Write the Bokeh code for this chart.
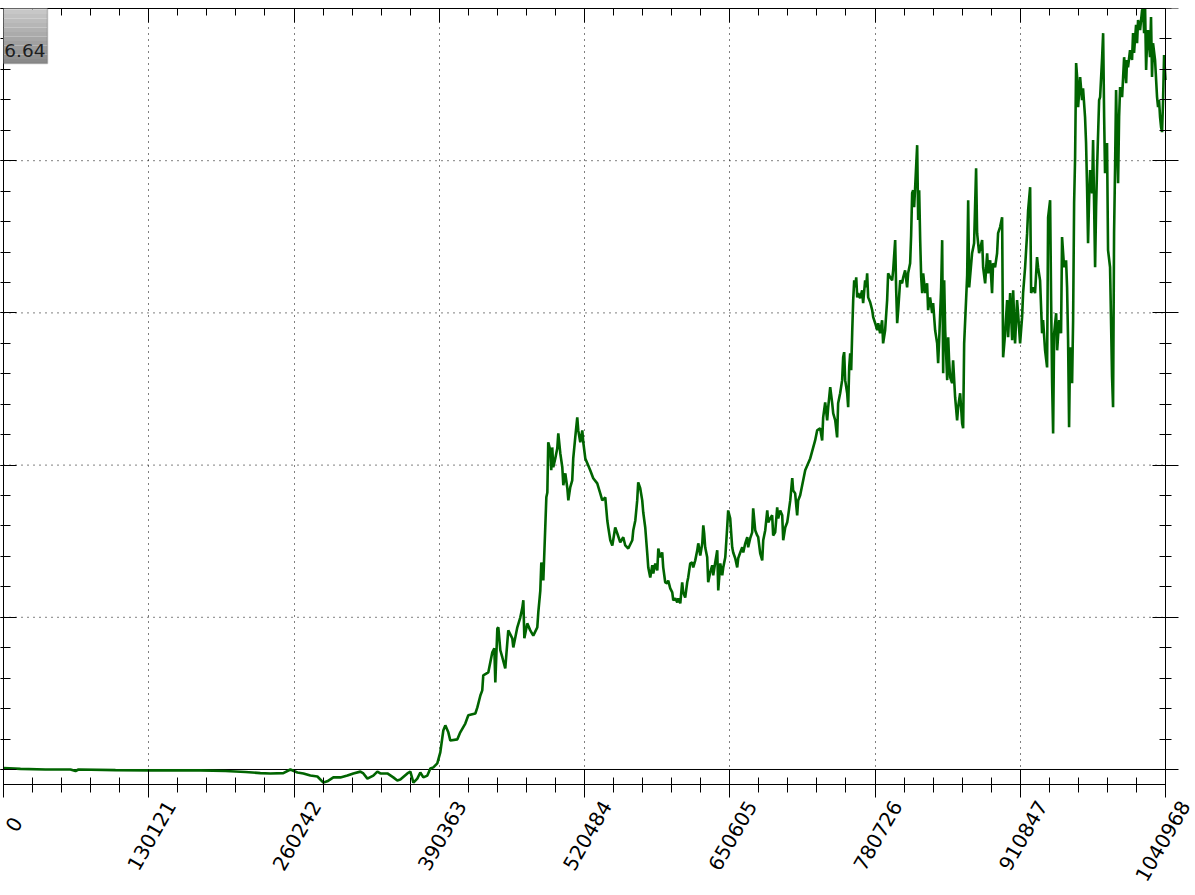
import numpy as np
from bokeh.plotting import figure
from bokeh.models import (Range1d, LinearAxis, FixedTicker, Span, BoxAnnotation,
                          Label, Grid, CustomLabelingPolicy, BasicTickFormatter)
from bokeh.embed import file_html
from bokeh.resources import INLINE

# ---------------- data ----------------
x_ticks = [0, 130121, 260242, 390363, 520484, 650605, 780726, 910847, 1040968]
y_ticks = [10000, 15000, 20000, 25000, 30000, 35000]
box_text = "6.64"

xs = [
    0, 15200, 37600, 60000, 64500, 67200, 100300, 131600, 176400, 198800,
    216700, 230100, 239100, 250700, 257000, 263300, 268700, 274900, 281200, 286600,
    290100, 295500, 301800, 308100, 313400, 319700, 322400, 326000, 331300, 334900,
    337600, 343900, 349200, 352800, 355500, 361800, 364500, 367200, 370700, 373400,
    376100, 379700, 382400, 385100, 388600, 391300, 394000, 395800, 398500, 400300,
    406600, 409200, 413700, 416400, 422700, 424500, 427200, 428900, 429800, 434300,
    437900, 439700, 440600, 442400, 443300, 445100, 446900, 449500, 452200, 455800,
    456700, 460300, 463000, 464800, 465700, 466600, 469200, 471900, 474600, 478200,
    479100, 480900, 481800, 483600, 485400, 486300, 487200, 488000, 489800, 490700,
    491600, 492500, 494300, 496100, 497000, 498800, 500600, 501500, 503300, 505100,
    506000, 507700, 509500, 510400, 512200, 514000, 514900, 516700, 518500, 519400,
    521200, 523000, 525600, 528300, 531900, 534600, 536400, 539100, 540900, 541800,
    543600, 545400, 548000, 549800, 552500, 555200, 557000, 559700, 563300, 564200,
    566000, 567700, 568600, 570400, 572200, 573100, 574900, 576700, 577600, 579400,
    581200, 582100, 583900, 585700, 586600, 588300, 590100, 591000, 592800, 594600,
    595500, 597300, 599100, 600000, 601800, 603600, 604500, 606300, 608000, 608900,
    610700, 612500, 613400, 615200, 617000, 617900, 619700, 621500, 622400, 624200,
    626000, 626900, 627700, 628600, 630400, 631300, 633100, 634900, 635800, 637600,
    639400, 640300, 642100, 643900, 644800, 646600, 648300, 649200, 651000, 652800,
    653700, 655500, 657300, 658200, 660000, 661800, 662700, 664500, 666300, 667100,
    668900, 670700, 671600, 673400, 675200, 676100, 677900, 679700, 680600, 682400,
    684200, 685100, 686800, 688600, 689500, 691300, 693100, 694000, 695800, 697600,
    698500, 700300, 702100, 703000, 704800, 706600, 707400, 709200, 711000, 711900,
    713700, 718200, 722700, 727100, 728900, 731600, 733400, 734300, 736100, 737900,
    738800, 740600, 742400, 743300, 745100, 746800, 747700, 749500, 751300, 752200,
    753100, 754000, 755800, 756700, 757600, 758500, 759400, 760300, 761200, 762100,
    763000, 763900, 764800, 765700, 767400, 769200, 770100, 771900, 772800, 773700,
    774600, 776400, 778200, 779100, 780900, 782700, 783600, 785300, 787100, 788000,
    789800, 791600, 792500, 794300, 796100, 797000, 798800, 799700, 800600, 801500,
    803300, 805000, 806000, 807700, 809500, 810400, 812200, 813100, 814000, 814900,
    815800, 816700, 818500, 819400, 820300, 821200, 822100, 823000, 823900, 825700,
    827400, 828300, 830100, 831900, 832800, 834600, 836400, 837300, 838200, 840000,
    840900, 841800, 842700, 843600, 845400, 846300, 847100, 848000, 849800, 850700,
    852500, 854300, 855200, 857000, 858800, 859700, 860600,
    863300, 864200, 865100, 867700, 869500, 871300, 872200, 874000, 876700,
    877600, 879400, 881200, 882100, 883900, 885600, 886500, 888300, 890100, 891000,
    892800, 894600, 895500, 897300, 899100, 900000, 901800, 903600, 904500, 906200,
    908000, 908900, 910700, 912500, 913400, 915200, 917000, 917900, 919700, 920600,
    922400, 924100, 925900, 926800, 928600, 930400, 931300, 933100, 934900, 935800,
    937600, 938500, 939400, 940300, 941200, 943000, 943900, 945700, 947400, 948300,
    950100, 951900, 952800, 953700, 954600, 955500, 957300, 958200, 959100, 960000,
    960900, 961800, 962700, 964500, 966200, 967100, 968900, 969800, 970700, 971600,
    972500, 973400, 975200, 976100, 977900, 978800, 979700, 981500, 982400, 984200,
    985100, 986000, 986800, 988600, 989500, 991300, 993100, 994000, 994900, 995800,
    996700, 997600, 998500, 999400, 1000300, 1002100, 1003000, 1003900, 1005700, 1006500,
    1007400, 1009200, 1011000, 1011900, 1012800, 1014600, 1015500, 1016400, 1018200, 1020000,
    1020900, 1021800, 1022700, 1023600, 1024500, 1025300, 1027100, 1028000, 1028900, 1029800,
    1031600, 1033400, 1034300, 1035200, 1036100, 1037000, 1037900, 1038800, 1039700, 1040968,
]

ys = [
    10050, 10020, 10000, 10000, 9950, 10000, 9980, 9970, 9970, 9950,
    9920, 9880, 9870, 9880, 10000, 9900, 9870, 9800, 9770, 9570,
    9610, 9740, 9740, 9800, 9870, 9930, 9870, 9700, 9800, 9930,
    9870, 9870, 9740, 9640, 9670, 9870, 9930, 9570, 9700, 9900,
    9740, 9800, 10030, 10070, 10200, 10560, 11280, 11450, 11220, 10950,
    10990, 11220, 11510, 11780, 11840, 12040, 12430, 12600, 13090, 13190,
    13850, 13980, 12860, 14630, 14670, 13910, 13680, 13320, 14570, 14310,
    14010, 14670, 15000, 15320, 15560, 14310, 14800, 14570, 14400, 14670,
    15160, 15880, 16800, 16210, 18020, 18940, 19100, 20750, 20490, 19830,
    20580, 19930, 20220, 20550, 21040, 20390, 19930, 19340, 19730, 19240,
    18840, 19270, 19500, 20220, 20910, 21570, 21140, 20750, 21140, 20750,
    20220, 20060, 19830, 19570, 19400, 19070, 18840, 18940, 18180, 17950,
    17530, 17360, 17950, 17760, 17460, 17630, 17360, 17260, 17530, 17860,
    18180, 18840, 19430, 19240, 18840, 18450, 17950, 17100, 16640, 16310,
    16710, 16440, 16770, 16540, 17260, 16970, 17130, 16640, 16150, 16110,
    16210, 15950, 15820, 15560, 15620, 15490, 15620, 15460, 16150, 15820,
    15650, 16150, 16310, 16770, 16800, 16640, 16870, 17200, 17430, 17030,
    17430, 18020, 17760, 17300, 16970, 16150, 16480, 16710, 16380, 16800,
    17200, 15880, 16770, 16380, 16640, 16970, 17950, 18510, 18250, 17300,
    17130, 16940, 16640, 16940, 17130, 17300, 17130, 17430, 17630, 17300,
    17590, 17790, 18580, 17860, 17690, 17630, 17100, 16870, 17530, 17860,
    18510, 18120, 18250, 18350, 17690, 17790, 18610, 18250, 18510, 18350,
    17530, 17950, 18120, 18350, 18840, 19570, 19170, 19070, 18350, 18840,
    19010, 19830, 20220, 20810, 21140, 21210, 20810, 21570, 22060, 21470,
    21900, 22560, 22030, 21700, 21470, 20910, 22030, 22360, 22790, 23540,
    23710, 22790, 22360, 21900, 23210, 23670, 23120, 24360, 25420, 26070,
    25840, 26170, 25510, 25650, 25480, 25740, 25320, 26070, 25840, 26300,
    25510, 25350, 25090, 24860, 24660, 24430, 24660, 24330, 24760, 24000,
    24430, 25420, 26300, 26170, 26070, 26400, 27390, 25740, 24660, 25090,
    26070, 25970, 26170, 26400, 25840, 26300, 26630, 27550, 28930, 29030,
    28470, 29130, 30510, 28050, 29030, 27390, 26170, 25650, 26300, 25650,
    25970, 25090, 25510, 24990, 25320, 24430, 24000, 23350, 24100, 25840,
    27390, 23020, 26070, 24430, 22790, 24200, 23440, 22890, 22690, 23440,
    22230, 21470, 21900, 22360, 21370, 21210, 24000,
    26240, 28700, 25840, 26960, 27290, 29750, 27620, 26960, 27390,
    26500, 25970, 26960, 26300, 26730, 25650, 26630, 26500, 26960, 27620,
    27820, 28140, 23540, 24330, 25420, 24200, 25650, 24100, 25740, 24000,
    25420, 24990, 24000, 24860, 25650, 26500, 27620, 28370, 29130, 25650,
    25840, 25650, 26830, 26500, 26070, 24330, 24760, 23770, 23210, 28140,
    28700, 25420, 22690, 21040, 24330, 24990, 23770, 24760, 24330, 27490,
    26500, 26730, 25840, 24100, 21240, 23870, 22690, 24760, 28600, 30120,
    33210, 32750, 31760, 32750, 31990, 32380, 31430, 30580, 29130, 27290,
    28700, 29690, 28930, 30680, 26500, 28470, 29790, 31990, 32090, 33400,
    34190, 31430, 29590, 30580, 27060, 26500, 22890, 21900, 27620, 29790,
    32320, 30680, 29260, 31430, 32420, 32090, 32750, 33400, 32550, 33310,
    33070, 33630, 33310, 34190, 33540, 34460, 33860, 34620, 34290, 34950,
    34980, 34190, 34980, 32980, 33960, 34290, 33400, 34720, 32750, 33860,
    33310, 32090, 31760, 31990, 31430, 31100, 30940, 31990, 33470, 32650,
]

n = min(len(xs), len(ys))
xs, ys = xs[:n], ys[:n]

# ---------------- geometry ----------------
X0, X1 = 0, 1040968
Y0, Y1 = 9507, 35000
W, H = 1195, 895
LEFT, TOP, BOTTOM = 3, 8, 784          # frame edges in canvas px
AXIS_RIGHT = 1165                       # where the right axis line sits
px_x = (X1 - X0) / (AXIS_RIGHT - LEFT)  # data units per pixel
px_y = (Y1 - Y0) / (BOTTOM - TOP)
XR = X1 + (W - AXIS_RIGHT) * px_x       # frame runs to the canvas edge

p = figure(width=W, height=H, output_backend="svg", toolbar_location=None,
           x_range=Range1d(X0, XR), y_range=Range1d(Y0, Y1),
           x_axis_location=None, y_axis_location=None,
           min_border_left=LEFT, min_border_right=0, min_border_top=TOP,
           min_border_bottom=H - BOTTOM,
           background_fill_color="white", border_fill_color="white")
p.outline_line_color = None
p.xgrid.visible = False
p.ygrid.visible = False

x_minor = [X1 * k / 40 for k in range(41)]
y_minor = list(range(10000, 35001, 1000))

FONT = "DejaVu Sans"
no_labels = CustomLabelingPolicy(
    code="for (const i of Array.from(indices)) { indices.unset(i) } return indices")


def tick_axis(ticker, tin, tout, min_in, min_out, **kw):
    opts = dict(ticker=ticker,
                axis_line_color="black", axis_line_width=1,
                major_tick_line_color="black", minor_tick_line_color="black",
                major_tick_in=tin, major_tick_out=tout,
                minor_tick_in=min_in, minor_tick_out=min_out,
                major_label_policy=no_labels,
                major_label_text_font_size="0px",
                major_label_standoff=0)
    opts.update(kw)
    return LinearAxis(**opts)


xt = FixedTicker(ticks=x_ticks, minor_ticks=x_minor)
yt = FixedTicker(ticks=y_ticks, minor_ticks=y_minor)

p.add_layout(tick_axis(xt, 15, 13, 7, 8, bounds=(X0, X1)), "below")
p.add_layout(tick_axis(xt, 14, 0, 7, 0, bounds=(X0, X1)), "above")
p.add_layout(tick_axis(yt, 13, 3, 7, 3), "left")

# right axis: line at X1, ticks crossing it (major 13+13 px, minor 6+6 px)
p.add_layout(Span(location=X1, dimension="height", line_color="black", line_width=1))
p.add_layout(tick_axis(FixedTicker(ticks=y_ticks, minor_ticks=[]), 26, 0, 0, 0,
                       fixed_location=X1 + 13 * px_x, axis_line_color=None,
                       minor_tick_line_color=None), "right")
p.add_layout(tick_axis(FixedTicker(ticks=[], minor_ticks=y_minor), 0, 0, 12, 0,
                       fixed_location=X1 + 6 * px_x, axis_line_color=None,
                       major_tick_line_color=None), "right")

# rotated tick labels: a label-only axis whose range is offset so that each
# rotated label sits centred below its tick (as in the reference)
shift = 22 * px_x
p.extra_x_ranges = {"lab": Range1d(X0 - shift, XR - shift)}
overrides = {t: str(t) for t in x_ticks}
overrides[x_ticks[0]] = str(x_ticks[0]) + "\u00a0\u00a0\u00a0"
lab_axis = LinearAxis(x_range_name="lab",
                      ticker=FixedTicker(ticks=x_ticks, minor_ticks=[]),
                      formatter=BasicTickFormatter(use_scientific=False),
                      major_label_overrides=overrides,
                      axis_line_color=None, major_tick_line_color=None,
                      minor_tick_line_color=None,
                      major_tick_in=0, major_tick_out=0,
                      minor_tick_in=0, minor_tick_out=0,
                      major_label_orientation=np.pi / 3,
                      major_label_standoff=5,
                      major_label_text_font=FONT,
                      major_label_text_font_size="20px",
                      major_label_text_color="black")
p.add_layout(lab_axis, "below")

# grid: dotted verticals at the x ticks, dotted horizontals at inner y ticks,
# solid line at the first y tick
p.add_layout(Grid(dimension=0, ticker=FixedTicker(ticks=x_ticks),
                  grid_line_color="black", grid_line_dash="1 5", grid_line_width=1))
inner = y_ticks[1:-1]
p.segment(x0=[X0] * len(inner), x1=[X1] * len(inner), y0=inner, y1=inner,
          line_color="black", line_dash="1 5", line_width=1)
p.segment(x0=[X0], x1=[X1], y0=[y_ticks[0]], y1=[y_ticks[0]],
          line_color="black", line_width=1)

p.line(xs, ys, line_color="#006400", line_width=2.6)

# ---------------- value box (top-left) ----------------
bx_l, bx_r = X0 - 3 * px_x, X0 + 44 * px_x
by_t, by_b = Y1 + 8 * px_y, Y1 - 55 * px_y
bands = 14
for k in range(bands):
    g = int(round(210 - (210 - 138) * k / (bands - 1)))
    col = "#%02x%02x%02x" % (g, g, g)
    t = by_t - (by_t - by_b) * k / bands
    b = by_t - (by_t - by_b) * (k + 1) / bands
    p.add_layout(BoxAnnotation(left=bx_l, right=bx_r, top=t, bottom=b,
                               fill_color=col, fill_alpha=1, line_color=None))
p.add_layout(BoxAnnotation(left=bx_l, right=bx_r, top=by_t, bottom=by_b,
                           fill_color=None, line_color="#5a5a5a", line_width=1.5))
p.add_layout(Label(x=X0 + 42 * px_x, y=Y1 - 41.5 * px_y, text=box_text,
                   text_align="right", text_baseline="middle",
                   text_font=FONT, text_font_size="18.5px", text_color="#1e1e1e"))

open("out.html", "w").write(file_html(p, INLINE))
